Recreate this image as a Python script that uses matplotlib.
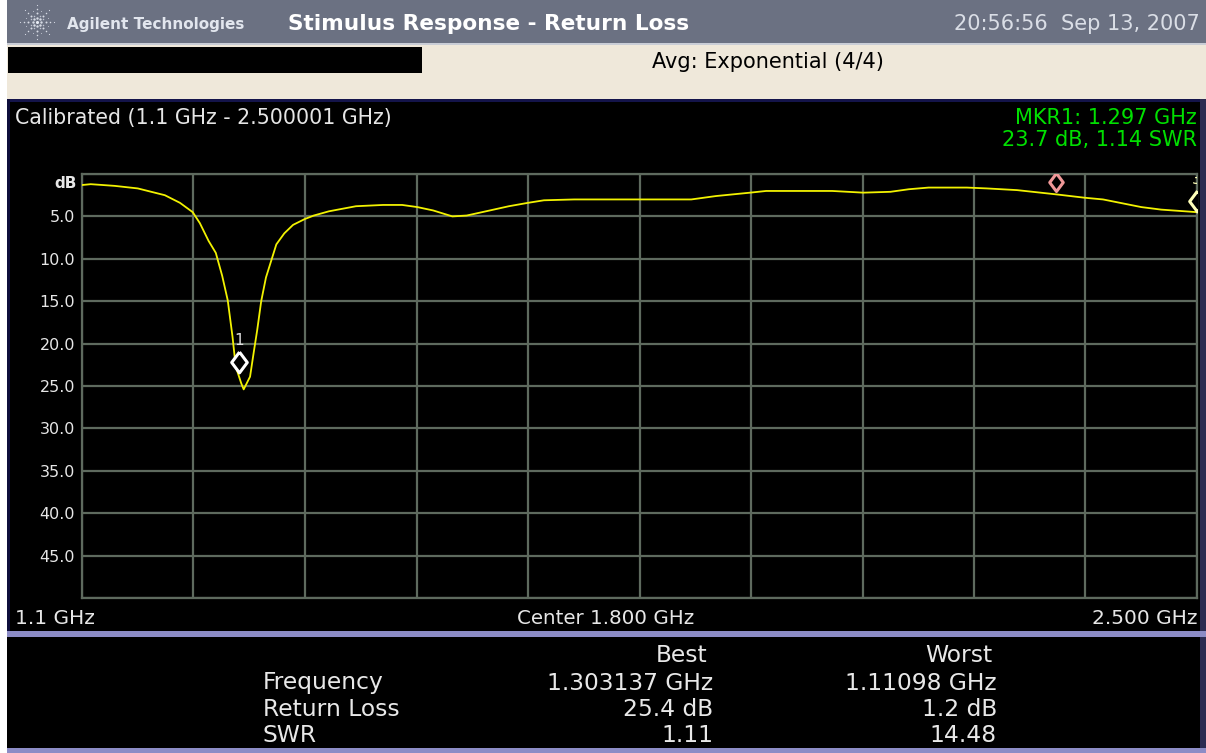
import numpy as np
import matplotlib
matplotlib.use("Agg")
import matplotlib.pyplot as plt
from matplotlib.patches import Rectangle

plt.rcParams['font.family'] = ['DejaVu Sans']

# ---------------- data ----------------
freq_ghz = [1.100, 1.111, 1.141, 1.170, 1.204, 1.223, 1.239, 1.248, 1.259, 1.268,
            1.276, 1.283, 1.289, 1.293, 1.300, 1.303, 1.311, 1.316, 1.320, 1.325,
            1.331, 1.344, 1.354, 1.365, 1.380, 1.391, 1.410, 1.444, 1.478, 1.502,
            1.521, 1.541, 1.565, 1.583, 1.612, 1.636, 1.660, 1.680, 1.718, 1.801,
            1.865, 1.896, 1.939, 1.959, 2.042, 2.081, 2.115, 2.138, 2.163, 2.211,
            2.236, 2.274, 2.323, 2.359, 2.382, 2.430, 2.455, 2.500]
return_loss_db = [1.3, 1.2, 1.4, 1.7, 2.5, 3.4, 4.5, 5.8, 7.9, 9.3,
                  12.0, 14.9, 19.2, 22.7, 24.7, 25.4, 23.9, 20.8, 18.4, 15.0,
                  12.2, 8.3, 7.0, 6.0, 5.3, 4.9, 4.4, 3.8, 3.65, 3.65,
                  3.9, 4.3, 5.0, 4.9, 4.3, 3.8, 3.4, 3.1, 3.0, 3.0,
                  3.0, 2.6, 2.2, 2.0, 2.0, 2.2, 2.1, 1.8, 1.6, 1.6,
                  1.7, 1.9, 2.4, 2.8, 3.0, 3.9, 4.2, 4.5]

marker_freqs = [1.297, 2.323, 2.500]
marker_levels = [22.2, 0.95, 3.2]
marker_labels = ["1", "", "3"]
marker_colors = ["#FFFFFF", "#F09898", "#FFFFB8"]
marker_sizes = [15, 13, 15]

y_ticks = [0, 5, 10, 15, 20, 25, 30, 35, 40, 45, 50]
y_tick_labels = ["", "5.0", "10.0", "15.0", "20.0", "25.0", "30.0", "35.0", "40.0", "45.0", ""]
f_start, f_stop = 1.1, 2.5

table_rows = ["Frequency", "Return Loss", "SWR"]
best_vals = ["1.303137 GHz", "25.4 dB", "1.11"]
worst_vals = ["1.11098 GHz", "1.2 dB", "14.48"]

# ---------------- figure ----------------
W, H = 1206, 753
fig = plt.figure(figsize=(W / 100, H / 100), dpi=100)
fig.patch.set_facecolor("white")


def fx(x):
    return x / W


def fy(y):
    return 1 - y / H


def rect(x0, y0, x1, y1, color, z=0):
    fig.add_artist(Rectangle((fx(x0), fy(y1)), (x1 - x0) / W, (y1 - y0) / H,
                             transform=fig.transFigure, facecolor=color,
                             edgecolor="none", zorder=z))


# background panels
rect(7, 0, 1206, 43, "#6B7182")
rect(7, 43, 1206, 45, "#C9CDD6")
rect(7, 45, 1206, 99, "#EFE8DA")
rect(8, 47, 422, 73, "#000000")
rect(7, 99, 1206, 632, "#000000")
rect(7, 99, 1206, 102, "#14144A")
rect(7, 99, 10, 753, "#0E0E3C")
rect(1200, 99, 1206, 632, "#2C2C52")
rect(7, 631, 1206, 637, "#8C8CC6")
rect(7, 637, 1206, 748, "#000000")
rect(1200, 637, 1206, 748, "#2C2C52")
rect(7, 748, 1206, 753, "#8C8CC6")

# logo (starburst of dots)
lax = fig.add_axes([fx(18), fy(41), 38 / W, 38 / H])
lax.set_xlim(-1, 1)
lax.set_ylim(-1, 1)
lax.axis("off")
ang = np.linspace(0, 2 * np.pi, 8, endpoint=False)
for r, s in zip([0.22, 0.45, 0.68, 0.9], [3.0, 2.0, 1.2, 0.7]):
    lax.scatter(r * np.cos(ang), r * np.sin(ang), s=s, color="#D8DCE6", linewidths=0)
ang2 = ang + np.pi / 8
for r, s in zip([0.35, 0.6], [1.2, 0.6]):
    lax.scatter(r * np.cos(ang2), r * np.sin(ang2), s=s, color="#C0C4D0", linewidths=0)
lax.scatter([0], [0], s=5, color="#E8ECF4", linewidths=0)

# header texts
fig.text(fx(67), fy(24), "Agilent Technologies", fontsize=11, fontweight="bold",
         color="#E2E6EE", ha="left", va="center")
fig.text(fx(288), fy(24), "Stimulus Response - Return Loss", fontsize=15.6,
         fontweight="bold", color="#FFFFFF", ha="left", va="center")
fig.text(fx(1200), fy(24), "20:56:56  Sep 13, 2007", fontsize=15, color="#DADEE6",
         ha="right", va="center")
fig.text(fx(652), fy(62), "Avg: Exponential (4/4)", fontsize=15, color="#000000",
         ha="left", va="center")

# panel texts
fig.text(fx(15), fy(118), "Calibrated (1.1 GHz - 2.500001 GHz)", fontsize=14.8,
         color="#E6E6E6", ha="left", va="center")
fig.text(fx(1197), fy(118), "MKR1: 1.297 GHz", fontsize=15, color="#00E000",
         ha="right", va="center")
fig.text(fx(1197), fy(140), "23.7 dB, 1.14 SWR", fontsize=15, color="#00E000",
         ha="right", va="center")
fig.text(fx(77), fy(184), "dB", fontsize=11, color="#E6E6E6", ha="right",
         va="center", fontweight="bold")
fig.text(fx(15), fy(618), "1.1 GHz", fontsize=14.5, color="#E6E6E6", ha="left", va="center")
fig.text(fx(606), fy(618), "Center 1.800 GHz", fontsize=14.3, color="#E6E6E6",
         ha="center", va="center")
fig.text(fx(1197), fy(618), "2.500 GHz", fontsize=14.5, color="#E6E6E6",
         ha="right", va="center")

# ---------------- main plot ----------------
grid_c = "#5E6A5E"
ax = fig.add_axes([fx(82), fy(598), 1115 / W, 424 / H])
ax.set_facecolor("#000000")
ax.set_xlim(f_start, f_stop)
ax.set_ylim(50, 0)
ax.set_xticks(np.linspace(f_start, f_stop, 11))
ax.set_xticklabels([])
ax.set_yticks(y_ticks)
ax.set_yticklabels(y_tick_labels)
ax.tick_params(length=0, pad=5, labelsize=11.5, labelcolor="#E6E6E6")
ax.grid(True, color=grid_c, linewidth=1.6)
ax.set_axisbelow(True)
for sp in ax.spines.values():
    sp.set_color(grid_c)
    sp.set_linewidth(1.6)

ax.plot(freq_ghz, return_loss_db, color="#F2F200", linewidth=1.3, zorder=3)

diamond = [(0, 1), (0.75, 0), (0, -1), (-0.75, 0), (0, 1)]
for f, lv, lab, c, ms in zip(marker_freqs, marker_levels, marker_labels,
                             marker_colors, marker_sizes):
    ax.plot([f], [lv], marker=diamond, markersize=ms, markerfacecolor="#000000",
            markeredgecolor=c, markeredgewidth=2.2, linestyle="none", zorder=4)
    if lab:
        ax.text(f, lv - 2.6, lab, color="#E0E0E0" if lab == "1" else c, fontsize=11,
                ha="center", va="center", zorder=4, clip_on=True)

# ---------------- table ----------------
tc = "#E8E8E8"
fs_t = 16.8
fig.text(fx(707), fy(656), "Best", fontsize=fs_t, color=tc, ha="right", va="center")
fig.text(fx(992), fy(656), "Worst", fontsize=fs_t, color=tc, ha="right", va="center")
for i, (lab, b, w) in enumerate(zip(table_rows, best_vals, worst_vals)):
    yy = 683 + i * 26.5
    fig.text(fx(263), fy(yy), lab, fontsize=fs_t, color=tc, ha="left", va="center")
    fig.text(fx(713), fy(yy), b, fontsize=fs_t, color=tc, ha="right", va="center")
    fig.text(fx(997), fy(yy), w, fontsize=fs_t, color=tc, ha="right", va="center")

fig.savefig("out.png", dpi=100, facecolor=fig.get_facecolor())
